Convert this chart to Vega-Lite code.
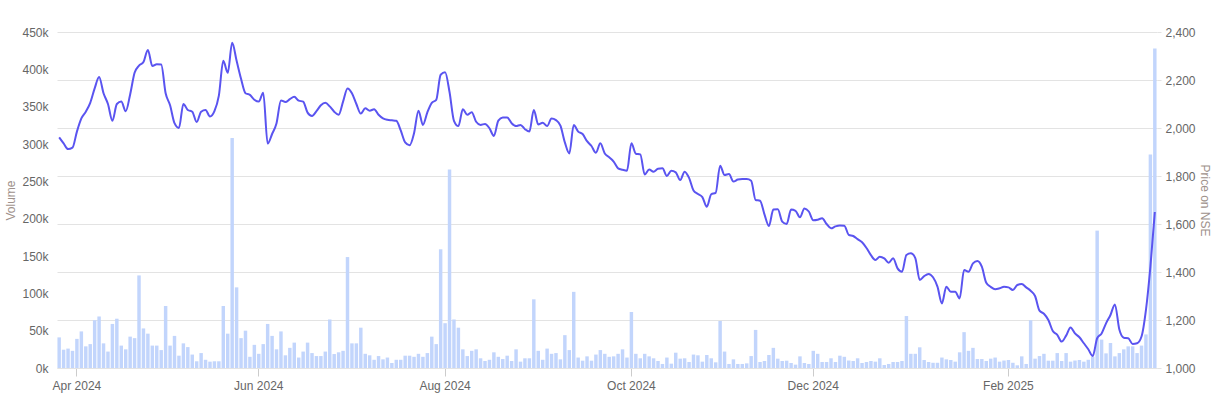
{
"$schema":"https://vega.github.io/schema/vega-lite/v6.json",
"width":1100,"height":336,
"autosize":{"type":"none"},
"padding":{"left":57,"top":32,"right":60,"bottom":44},
"background":"white",
"config":{"view":{"stroke":null},"font":"Liberation Sans",
 "axis":{"labelFont":"Liberation Sans","titleFont":"Liberation Sans","labelFontSize":12,"labelColor":"#666666","titleColor":"#9e918b","titleFontSize":12,"titleFontWeight":"normal","gridColor":"#e3e3e3","domain":false}},
"data":{"values":[
{"date":"2024-03-22","volume":41000,"price":1961},
{"date":"2024-03-26","volume":24500,"price":1936},
{"date":"2024-03-27","volume":26000,"price":1912},
{"date":"2024-03-28","volume":23000,"price":1918},
{"date":"2024-04-01","volume":39000,"price":1985},
{"date":"2024-04-02","volume":49000,"price":2040},
{"date":"2024-04-03","volume":29000,"price":2068},
{"date":"2024-04-04","volume":32000,"price":2105},
{"date":"2024-04-05","volume":64000,"price":2165},
{"date":"2024-04-08","volume":69000,"price":2212},
{"date":"2024-04-09","volume":33000,"price":2145},
{"date":"2024-04-10","volume":22000,"price":2100},
{"date":"2024-04-12","volume":59000,"price":2030},
{"date":"2024-04-15","volume":66000,"price":2100},
{"date":"2024-04-16","volume":30000,"price":2110},
{"date":"2024-04-18","volume":25000,"price":2070},
{"date":"2024-04-19","volume":42000,"price":2140},
{"date":"2024-04-22","volume":40000,"price":2230},
{"date":"2024-04-23","volume":124000,"price":2260},
{"date":"2024-04-24","volume":53000,"price":2275},
{"date":"2024-04-25","volume":46000,"price":2325},
{"date":"2024-04-26","volume":30000,"price":2258},
{"date":"2024-04-29","volume":30000,"price":2266},
{"date":"2024-04-30","volume":24000,"price":2265},
{"date":"2024-05-02","volume":83000,"price":2145},
{"date":"2024-05-03","volume":30000,"price":2095},
{"date":"2024-05-06","volume":43000,"price":2020},
{"date":"2024-05-07","volume":16500,"price":2000},
{"date":"2024-05-08","volume":33000,"price":2100},
{"date":"2024-05-09","volume":28000,"price":2075},
{"date":"2024-05-10","volume":18000,"price":2068},
{"date":"2024-05-13","volume":9000,"price":2025},
{"date":"2024-05-14","volume":20000,"price":2068},
{"date":"2024-05-15","volume":11000,"price":2075},
{"date":"2024-05-16","volume":8500,"price":2048},
{"date":"2024-05-17","volume":9000,"price":2070},
{"date":"2024-05-21","volume":9000,"price":2135},
{"date":"2024-05-22","volume":83000,"price":2280},
{"date":"2024-05-23","volume":46000,"price":2230},
{"date":"2024-05-24","volume":308000,"price":2355},
{"date":"2024-05-27","volume":108000,"price":2280},
{"date":"2024-05-28","volume":40000,"price":2205},
{"date":"2024-05-29","volume":50000,"price":2145},
{"date":"2024-05-30","volume":15000,"price":2138},
{"date":"2024-05-31","volume":31000,"price":2118},
{"date":"2024-06-03","volume":19000,"price":2110},
{"date":"2024-06-04","volume":32000,"price":2147},
{"date":"2024-06-05","volume":59000,"price":1935},
{"date":"2024-06-06","volume":43000,"price":1975},
{"date":"2024-06-07","volume":25000,"price":2020},
{"date":"2024-06-10","volume":49000,"price":2115},
{"date":"2024-06-11","volume":17000,"price":2108},
{"date":"2024-06-12","volume":27000,"price":2120},
{"date":"2024-06-13","volume":34000,"price":2130},
{"date":"2024-06-14","volume":14000,"price":2114},
{"date":"2024-06-17","volume":22000,"price":2110},
{"date":"2024-06-18","volume":34000,"price":2064},
{"date":"2024-06-19","volume":20000,"price":2050},
{"date":"2024-06-20","volume":16000,"price":2070},
{"date":"2024-06-21","volume":16000,"price":2095},
{"date":"2024-06-24","volume":22000,"price":2105},
{"date":"2024-06-25","volume":65000,"price":2090},
{"date":"2024-06-26","volume":18700,"price":2068},
{"date":"2024-06-27","volume":21000,"price":2055},
{"date":"2024-06-28","volume":23000,"price":2110},
{"date":"2024-07-01","volume":148600,"price":2165},
{"date":"2024-07-02","volume":33000,"price":2145},
{"date":"2024-07-03","volume":33000,"price":2100},
{"date":"2024-07-04","volume":54000,"price":2060},
{"date":"2024-07-05","volume":19000,"price":2082},
{"date":"2024-07-08","volume":17000,"price":2072},
{"date":"2024-07-09","volume":11000,"price":2078},
{"date":"2024-07-10","volume":16000,"price":2055},
{"date":"2024-07-11","volume":11600,"price":2040},
{"date":"2024-07-12","volume":14000,"price":2034},
{"date":"2024-07-15","volume":6700,"price":2032},
{"date":"2024-07-16","volume":11000,"price":2030},
{"date":"2024-07-18","volume":11000,"price":1990},
{"date":"2024-07-19","volume":16500,"price":1940},
{"date":"2024-07-22","volume":16500,"price":1928},
{"date":"2024-07-23","volume":15000,"price":1978},
{"date":"2024-07-24","volume":19000,"price":2072},
{"date":"2024-07-25","volume":15000,"price":2013},
{"date":"2024-07-26","volume":20000,"price":2065},
{"date":"2024-07-29","volume":42000,"price":2105},
{"date":"2024-07-30","volume":32000,"price":2117},
{"date":"2024-07-31","volume":159000,"price":2222},
{"date":"2024-08-01","volume":60000,"price":2232},
{"date":"2024-08-02","volume":266000,"price":2150},
{"date":"2024-08-05","volume":65000,"price":2030},
{"date":"2024-08-06","volume":54000,"price":2008},
{"date":"2024-08-07","volume":25000,"price":2078},
{"date":"2024-08-08","volume":16000,"price":2055},
{"date":"2024-08-09","volume":23000,"price":2066},
{"date":"2024-08-12","volume":25000,"price":2026},
{"date":"2024-08-13","volume":13000,"price":2013},
{"date":"2024-08-14","volume":9400,"price":2017},
{"date":"2024-08-16","volume":11000,"price":1999},
{"date":"2024-08-19","volume":21000,"price":1967},
{"date":"2024-08-20","volume":15000,"price":2031},
{"date":"2024-08-21","volume":12000,"price":2044},
{"date":"2024-08-22","volume":16500,"price":2044},
{"date":"2024-08-23","volume":9400,"price":2020},
{"date":"2024-08-26","volume":25000,"price":2008},
{"date":"2024-08-27","volume":8500,"price":2013},
{"date":"2024-08-28","volume":13000,"price":1995},
{"date":"2024-08-29","volume":13000,"price":1985},
{"date":"2024-08-30","volume":92000,"price":2075},
{"date":"2024-09-02","volume":23000,"price":2015},
{"date":"2024-09-03","volume":11000,"price":2022},
{"date":"2024-09-04","volume":26000,"price":2008},
{"date":"2024-09-05","volume":19000,"price":2040},
{"date":"2024-09-06","volume":20000,"price":2033},
{"date":"2024-09-09","volume":11600,"price":2010},
{"date":"2024-09-10","volume":44000,"price":1940},
{"date":"2024-09-11","volume":24000,"price":1894},
{"date":"2024-09-12","volume":102000,"price":2012},
{"date":"2024-09-13","volume":14000,"price":1985},
{"date":"2024-09-16","volume":9800,"price":1975},
{"date":"2024-09-17","volume":15600,"price":1945},
{"date":"2024-09-18","volume":9800,"price":1925},
{"date":"2024-09-19","volume":18000,"price":1897},
{"date":"2024-09-20","volume":24000,"price":1936},
{"date":"2024-09-23","volume":19000,"price":1894},
{"date":"2024-09-24","volume":15000,"price":1878},
{"date":"2024-09-25","volume":15600,"price":1860},
{"date":"2024-09-26","volume":19000,"price":1832},
{"date":"2024-09-27","volume":25000,"price":1826},
{"date":"2024-09-30","volume":14000,"price":1822},
{"date":"2024-10-01","volume":75000,"price":1936},
{"date":"2024-10-03","volume":19000,"price":1893},
{"date":"2024-10-04","volume":13000,"price":1890},
{"date":"2024-10-07","volume":19000,"price":1806},
{"date":"2024-10-08","volume":15600,"price":1827},
{"date":"2024-10-09","volume":13000,"price":1818},
{"date":"2024-10-10","volume":9400,"price":1830},
{"date":"2024-10-11","volume":5400,"price":1832},
{"date":"2024-10-14","volume":14000,"price":1800},
{"date":"2024-10-15","volume":5800,"price":1822},
{"date":"2024-10-16","volume":20500,"price":1815},
{"date":"2024-10-17","volume":12500,"price":1783},
{"date":"2024-10-18","volume":13000,"price":1818},
{"date":"2024-10-21","volume":8000,"price":1792},
{"date":"2024-10-22","volume":18000,"price":1740},
{"date":"2024-10-23","volume":17000,"price":1725},
{"date":"2024-10-24","volume":8500,"price":1712},
{"date":"2024-10-25","volume":17400,"price":1672},
{"date":"2024-10-28","volume":13000,"price":1724},
{"date":"2024-10-29","volume":7600,"price":1730},
{"date":"2024-10-30","volume":63000,"price":1843},
{"date":"2024-10-31","volume":22000,"price":1804},
{"date":"2024-11-01","volume":5400,"price":1808},
{"date":"2024-11-04","volume":11600,"price":1777},
{"date":"2024-11-05","volume":5400,"price":1785},
{"date":"2024-11-06","volume":5400,"price":1787},
{"date":"2024-11-07","volume":6200,"price":1787},
{"date":"2024-11-08","volume":16000,"price":1780},
{"date":"2024-11-11","volume":51000,"price":1700},
{"date":"2024-11-12","volume":8000,"price":1697},
{"date":"2024-11-13","volume":9400,"price":1640},
{"date":"2024-11-14","volume":17400,"price":1592},
{"date":"2024-11-18","volume":27000,"price":1660},
{"date":"2024-11-19","volume":12500,"price":1661},
{"date":"2024-11-21","volume":9400,"price":1610},
{"date":"2024-11-22","volume":9800,"price":1600},
{"date":"2024-11-25","volume":6700,"price":1660},
{"date":"2024-11-26","volume":4500,"price":1655},
{"date":"2024-11-27","volume":15600,"price":1628},
{"date":"2024-11-28","volume":6700,"price":1665},
{"date":"2024-11-29","volume":5400,"price":1652},
{"date":"2024-12-02","volume":23000,"price":1616},
{"date":"2024-12-03","volume":19000,"price":1618},
{"date":"2024-12-04","volume":8000,"price":1624},
{"date":"2024-12-05","volume":8000,"price":1600},
{"date":"2024-12-06","volume":13000,"price":1582},
{"date":"2024-12-09","volume":8000,"price":1590},
{"date":"2024-12-10","volume":16500,"price":1594},
{"date":"2024-12-11","volume":15000,"price":1593},
{"date":"2024-12-12","volume":10000,"price":1555},
{"date":"2024-12-13","volume":9400,"price":1550},
{"date":"2024-12-16","volume":13000,"price":1537},
{"date":"2024-12-17","volume":6700,"price":1524},
{"date":"2024-12-18","volume":8000,"price":1500},
{"date":"2024-12-19","volume":9400,"price":1470},
{"date":"2024-12-20","volume":8500,"price":1450},
{"date":"2024-12-23","volume":13000,"price":1464},
{"date":"2024-12-24","volume":4000,"price":1457},
{"date":"2024-12-26","volume":5400,"price":1439},
{"date":"2024-12-27","volume":8000,"price":1457},
{"date":"2024-12-30","volume":8000,"price":1415},
{"date":"2024-12-31","volume":9400,"price":1401},
{"date":"2025-01-01","volume":69600,"price":1471},
{"date":"2025-01-02","volume":19000,"price":1478},
{"date":"2025-01-03","volume":19000,"price":1458},
{"date":"2025-01-06","volume":27700,"price":1367},
{"date":"2025-01-07","volume":10700,"price":1383},
{"date":"2025-01-08","volume":8000,"price":1392},
{"date":"2025-01-09","volume":7000,"price":1378},
{"date":"2025-01-10","volume":7000,"price":1339},
{"date":"2025-01-13","volume":14000,"price":1269},
{"date":"2025-01-14","volume":11600,"price":1339},
{"date":"2025-01-15","volume":10700,"price":1318},
{"date":"2025-01-16","volume":8500,"price":1318},
{"date":"2025-01-17","volume":21000,"price":1290},
{"date":"2025-01-20","volume":48000,"price":1408},
{"date":"2025-01-21","volume":23000,"price":1401},
{"date":"2025-01-22","volume":27000,"price":1436},
{"date":"2025-01-23","volume":12000,"price":1446},
{"date":"2025-01-24","volume":12000,"price":1422},
{"date":"2025-01-27","volume":9400,"price":1355},
{"date":"2025-01-28","volume":12500,"price":1338},
{"date":"2025-01-29","volume":14000,"price":1328},
{"date":"2025-01-30","volume":8500,"price":1332},
{"date":"2025-01-31","volume":10000,"price":1339},
{"date":"2025-02-03","volume":10700,"price":1336},
{"date":"2025-02-04","volume":7000,"price":1325},
{"date":"2025-02-05","volume":3600,"price":1346},
{"date":"2025-02-06","volume":15600,"price":1350},
{"date":"2025-02-07","volume":5400,"price":1336},
{"date":"2025-02-10","volume":64000,"price":1322},
{"date":"2025-02-11","volume":12500,"price":1300},
{"date":"2025-02-12","volume":16000,"price":1239},
{"date":"2025-02-13","volume":19000,"price":1226},
{"date":"2025-02-14","volume":9800,"price":1200},
{"date":"2025-02-17","volume":9800,"price":1154},
{"date":"2025-02-18","volume":20000,"price":1138},
{"date":"2025-02-19","volume":9400,"price":1110},
{"date":"2025-02-20","volume":20000,"price":1135},
{"date":"2025-02-21","volume":8500,"price":1169},
{"date":"2025-02-24","volume":10000,"price":1144},
{"date":"2025-02-25","volume":10700,"price":1128},
{"date":"2025-02-27","volume":8500,"price":1103},
{"date":"2025-02-28","volume":11000,"price":1078},
{"date":"2025-03-03","volume":15000,"price":1050},
{"date":"2025-03-04","volume":184000,"price":1124},
{"date":"2025-03-05","volume":38000,"price":1144},
{"date":"2025-03-06","volume":19600,"price":1186},
{"date":"2025-03-07","volume":33500,"price":1221},
{"date":"2025-03-10","volume":15600,"price":1265},
{"date":"2025-03-11","volume":20000,"price":1160},
{"date":"2025-03-12","volume":25000,"price":1126},
{"date":"2025-03-13","volume":29000,"price":1124},
{"date":"2025-03-17","volume":29000,"price":1100},
{"date":"2025-03-18","volume":20000,"price":1103},
{"date":"2025-03-19","volume":30000,"price":1131},
{"date":"2025-03-20","volume":45000,"price":1242},
{"date":"2025-03-21","volume":286000,"price":1422},
{"date":"2025-03-24","volume":428000,"price":1650}
]},
"encoding":{"x":{"field":"date","type":"ordinal","sort":"ascending",
 "scale":{"paddingInner":0.22,"paddingOuter":0.1},
 "axis":{"title":null,"labelAngle":0,"grid":false,"domain":true,"domainColor":"#e3e3e3","ticks":true,"tickColor":"#cccccc","tickSize":8,"labelPadding":4,
  "values":["2024-04-01","2024-06-03","2024-08-01","2024-10-01","2024-12-02","2025-02-03"],
  "labelExpr":"utcFormat(toDate(datum.value), '%b %Y')"}}},
"layer":[
 {"mark":{"type":"bar","color":"#c2d5fc"},
  "encoding":{"y":{"field":"volume","type":"quantitative","scale":{"domain":[0,450000],"nice":false},
   "axis":{"title":"Volume","format":"~s","values":[0,50000,100000,150000,200000,250000,300000,350000,400000,450000],"grid":false,"ticks":false,"labelPadding":9,"titlePadding":4}}}},
 {"mark":{"type":"line","color":"#5a54f0","strokeWidth":2,"interpolate":"monotone"},
  "encoding":{"y":{"field":"price","type":"quantitative","scale":{"domain":[1000,2400],"nice":false,"zero":false},
   "axis":{"orient":"right","title":"Price on NSE","format":",.0f","values":[1000,1200,1400,1600,1800,2000,2200,2400],"grid":true,"ticks":true,"tickColor":"#e3e3e3","tickSize":4,"labelPadding":4,"titlePadding":2}}}}
],
"resolve":{"scale":{"y":"independent"}}
}
